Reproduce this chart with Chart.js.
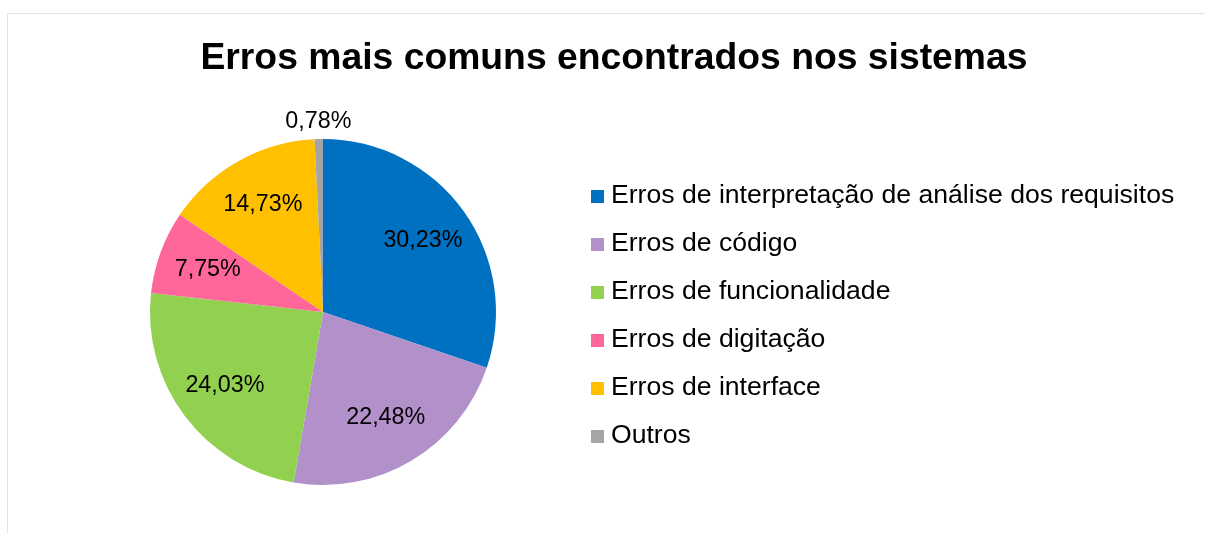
<!DOCTYPE html>
<html lang="pt">
<head>
<meta charset="utf-8">
<title>Erros mais comuns encontrados nos sistemas</title>
<script src="https://cdn.jsdelivr.net/npm/chart.js@4.4.1/dist/chart.umd.min.js"></script>
<style>
  html, body { margin: 0; padding: 0; background: #fff; overflow: hidden; width: 1205px; height: 533px; }
  body { position: relative; font-family: "Liberation Sans", Arial, sans-serif; }
  #frame { position: absolute; left: 7px; top: 13px; width: 1400px; height: 700px; border: 1.5px solid #dde2e8; box-sizing: border-box; }
  #chart { position: absolute; left: 0; top: 0; }
  #title { position: absolute; left: 0; top: 38px; width: 1228px; text-align: center; font-weight: bold; font-size: 37.3px; line-height: 37px; color: #000; white-space: nowrap; }
  #legend { position: absolute; left: 591px; top: 170px; font-size: 26.6px; line-height: 48px; color: #000; white-space: nowrap; }
  #legend .row { height: 48px; }
  #legend .sw { display: inline-block; width: 13px; height: 13px; margin-right: 7px; vertical-align: baseline; }
</style>
</head>
<body>
<div id="frame"></div>
<canvas id="chart" width="1205" height="533"></canvas>
<div id="title">Erros mais comuns encontrados nos sistemas</div>
<div id="legend"></div>
<script>
const categories = [
  "Erros de interpretação de análise dos requisitos",
  "Erros de código",
  "Erros de funcionalidade",
  "Erros de digitação",
  "Erros de interface",
  "Outros"
];
const percentages = [30.23, 22.48, 24.03, 7.75, 14.73, 0.78];
const sliceColors = ["#0070C0", "#B290CA", "#92D050", "#FF6699", "#FFC000", "#A5A5A5"];

// HTML legend built from the data arrays
const legendEl = document.getElementById("legend");
categories.forEach((name, i) => {
  const row = document.createElement("div");
  row.className = "row";
  const sw = document.createElement("span");
  sw.className = "sw";
  sw.style.background = sliceColors[i];
  row.appendChild(sw);
  row.appendChild(document.createTextNode(name));
  legendEl.appendChild(row);
});

const fmt = v => v.toFixed(2).replace(".", ",") + "%";

const pieLabels = {
  id: "pieLabels",
  afterDatasetsDraw(chart) {
    const ctx = chart.ctx;
    const meta = chart.getDatasetMeta(0);
    const data = chart.data.datasets[0].data;
    ctx.save();
    ctx.font = '23.3px "Liberation Sans", Arial, sans-serif';
    ctx.fillStyle = "#000";
    ctx.textAlign = "center";
    ctx.textBaseline = "middle";
    meta.data.forEach((arc, i) => {
      const p = arc.getProps(["x", "y", "startAngle", "endAngle", "outerRadius"], true);
      const mid = (p.startAngle + p.endAngle) / 2;
      const r = data[i] < 2 ? p.outerRadius + 17 : p.outerRadius * 0.71;
      ctx.fillText(fmt(data[i]), p.x + Math.cos(mid) * r, p.y + Math.sin(mid) * r);
    });
    ctx.restore();
  }
};

new Chart(document.getElementById("chart"), {
  type: "pie",
  data: {
    labels: categories,
    datasets: [{
      data: percentages,
      backgroundColor: sliceColors,
      borderWidth: 0
    }]
  },
  options: {
    responsive: false,
    animation: false,
    layout: { padding: { left: 150, right: 709, top: 139, bottom: 48 } },
    plugins: {
      legend: { display: false },
      tooltip: { enabled: false },
      title: { display: false }
    }
  },
  plugins: [pieLabels]
});
</script>
</body>
</html>
